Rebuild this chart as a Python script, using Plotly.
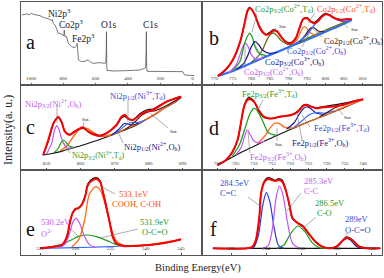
import plotly.graph_objects as go
from plotly.subplots import make_subplots

W, H = 384, 278
ML, MR, MT, MB = 21, 2, 2, 23

# ---------------- Panel a : survey ----------------
a_ev = [1057, 1040, 1027, 1010, 996, 985, 965, 944, 924, 903, 890, 883, 872, 868, 862, 852, 842, 831,
        821, 805, 797, 794, 790, 780, 769, 759, 749, 728, 718, 714, 711, 708, 706, 687, 660, 646, 630,
        615, 574, 543, 537, 534, 532.5, 531, 529, 492, 409, 327, 296, 290, 287, 285.5, 284, 281, 162,
        60, 49, -12]
a_int = [210, 212, 213, 211, 215, 212, 210, 208, 203, 200, 198, 197, 193, 196, 185, 180, 170, 155,
         155, 150, 148, 165, 145, 145, 125, 120, 115, 112, 118, 125, 105, 80, 75, 70, 72, 76, 68,
         65, 67, 65, 66, 100, 160, 60, 44, 42, 43, 45, 50, 52, 100, 160, 55, 41, 40,
         40, 30, 28]

# ---------------- Panel b : Co 2p ----------------
b_ev = [771, 773, 775, 777, 778, 779, 779.5, 780, 781, 782, 783, 784, 785, 786, 787, 788, 789, 790,
        791, 792, 793, 794, 795, 796, 797, 798, 799, 800, 801, 802, 803, 804, 805, 806, 807]
b_fit = [27, 45, 75, 130, 175, 222, 230, 228, 210, 180, 160, 150, 155, 163, 160, 145, 132, 125,
         127, 140, 172, 198, 200, 190, 185, 192, 205, 212, 210, 203, 198, 195, 196, 197, 197]
b_raw = [27, 44, 74, 128, 176, 224, 233, 229, 208, 178, 158, 152, 158, 166, 161, 146, 133, 127,
         129, 142, 170, 199, 202, 192, 188, 196, 208, 215, 211, 204, 199, 197, 197, 198, 197]
b_bg_ev = [771, 775, 780, 785, 790, 795, 800, 805, 807]
b_bg = [27, 42, 66, 90, 113, 136, 160, 184, 195]
b_co2td_ev = [775, 777, 778, 779, 779.6, 780.3, 781, 782, 784]
b_co2td = [42, 72, 117, 147, 155, 143, 116, 96, 88]
b_co2oh_ev = [774, 776, 777, 778, 778.5, 779.2, 780, 781, 783]
b_co2oh = [37, 62, 92, 122, 125, 113, 91, 79, 80]
b_co3oh_ev = [776, 778, 779, 780, 781, 782, 783, 785, 787]
b_co3oh = [47, 65, 87, 114, 130, 121, 105, 95, 99]
b_sat_ev = [780, 782, 783, 784, 785, 786, 787, 788, 790, 792, 795, 800, 807]
b_sat = [68, 88, 105, 130, 150, 156, 147, 134, 121, 124, 140, 165, 197]
b_td12_ev = [791, 792.5, 793.5, 794.3, 795, 796, 797.5]
b_td12 = [120, 139, 164, 175, 169, 156, 150]
b_co3oh12_ev = [793, 794.5, 795.5, 796.2, 797, 798, 799.5]
b_co3oh12 = [129, 149, 165, 172, 171, 162, 160]
b_co2oh12_ev = [790, 793, 795, 797, 798.5, 799.5, 800.4, 801.5, 803, 805, 807]
b_co2oh12 = [113, 132, 151, 181, 201, 212, 212, 207, 196, 190, 195]

# ---------------- Panel c : Ni 2p ----------------
c_ev = [849, 850.5, 852, 853, 853.4, 854.4, 855.4, 856.8, 858.3, 859.8, 860.7, 862.2, 864.2, 865.6,
        867.6, 870.5, 872, 873, 873.9, 875.4, 877.3, 879.3, 881.3, 883.2, 885.2, 887.1, 889.5]
c_fit = [45, 90, 140, 155, 160, 145, 115, 105, 115, 125, 128, 115, 105, 102,
         110, 135, 160, 165, 155, 150, 165, 175, 180, 192, 205, 212, 220]
c_raw = [44, 86, 138, 156, 158, 143, 116, 107, 117, 124, 126, 116, 107, 104,
         111, 133, 156, 161, 153, 151, 168, 180, 183, 194, 204, 213, 221]
c_bg_ev = [849, 852, 855, 858, 861, 864, 867, 870, 873, 876, 879, 882, 885, 888, 889.5]
c_bg = [45, 50, 58, 67, 76, 86, 97, 108, 120, 133, 150, 168, 188, 205, 218]
c_ni2oh_ev = [850, 851.5, 852.3, 853, 853.7, 854.5, 856, 858]
c_ni2oh = [48, 80, 117, 133, 120, 92, 67, 67]
c_ni3td_ev = [852, 853.5, 854.3, 854.9, 855.6, 856.5, 858]
c_ni3td = [50, 66, 83, 90, 85, 73, 67]
c_sat_ev = [854, 856, 858, 859.5, 860.7, 862, 864, 866, 868, 872, 878, 884, 889.5]
c_sat = [58, 73, 102, 120, 125, 124, 111, 101, 103, 118, 145, 182, 218]
c_ni2oh12_ev = [869, 871, 872.2, 873, 873.8, 875, 877]
c_ni2oh12 = [104, 120, 134, 140, 138, 135, 140]
c_ni3td12_ev = [870, 872, 873.5, 874.5, 875.5, 877, 879]
c_ni3td12 = [108, 124, 137, 142, 143, 143, 150]
c_sat2_ev = [873, 876, 878, 880, 882, 885, 889.5]
c_sat2 = [120, 145, 165, 175, 178, 192, 218]

# ---------------- Panel d : Fe 2p ----------------
d_ev = [700, 702.3, 704.1, 705.5, 706.4, 707.3, 708.2, 708.8, 710, 711.3, 712.7, 714, 715.4, 717.2,
        718.5, 720.3, 722.1, 723.5, 724.4, 725.7, 727.1, 728.9, 731.2, 733, 735.2, 737.9, 740]
d_fit = [15, 30, 55, 90, 140, 190, 210, 213, 205, 180, 160, 155, 155, 160,
         162, 165, 175, 192, 195, 190, 185, 188, 190, 192, 198, 207, 212]
d_raw = [15, 29, 53, 88, 138, 192, 214, 217, 207, 178, 158, 154, 156, 161,
         161, 166, 177, 194, 197, 191, 186, 190, 194, 197, 201, 208, 212]
d_bg_ev = [700, 703, 706, 709, 712, 715, 718, 721, 724, 727, 730, 733, 736, 740]
d_bg = [15, 32, 50, 66, 82, 97, 112, 126, 140, 153, 166, 179, 193, 212]
d_fe3td_ev = [704, 706, 707.5, 709, 710, 711, 712.5, 714, 716]
d_fe3td = [41, 75, 123, 171, 185, 177, 145, 112, 105]
d_fe3oh_ev = [705, 706.5, 707.5, 708.2, 709, 710, 711.5, 713]
d_fe3oh = [45, 68, 103, 120, 106, 87, 82, 87]
d_sat_ev = [711, 713, 714.5, 715.8, 717, 718.5, 720.5, 722.5, 727, 732, 736, 740]
d_sat = [79, 102, 127, 141, 139, 128, 126, 133, 153, 176, 194, 212]
d_fe3oh12_ev = [719, 721, 722.5, 723.7, 724.4, 725.3, 727, 729.5]
d_fe3oh12 = [123, 141, 168, 185, 189, 187, 172, 166]
d_fe3td12_ev = [721, 723.5, 725, 726.2, 727.5, 729.5, 732]
d_fe3td12 = [128, 150, 164, 170, 172, 171, 177]
d_sat2_ev = [728, 730, 732, 733.5, 735, 737, 740]
d_sat2 = [160, 172, 185, 192, 196, 205, 212]

# ---------------- Panel e : O 1s ----------------
e_ev = [525, 526.9, 528.1, 528.8, 529.2, 529.6, 530, 530.4, 530.9, 531.4, 531.8, 532.5, 533,
        533.5, 533.9, 534.4, 534.9, 535.3, 535.8, 536.8, 538.2, 540.5, 542.9, 545]
e_fit = [20, 25, 30, 55, 95, 125, 137, 140, 150, 175, 210, 225, 228,
         220, 190, 145, 95, 55, 35, 27, 27, 30, 37, 47]
e_raw = [20, 25, 31, 52, 92, 126, 139, 141, 152, 178, 214, 229, 232,
         223, 192, 146, 97, 57, 36, 27, 27, 30, 37, 47]
e_bg_ev = [525, 530, 535, 536.5]
e_bg = [20, 22, 25, 27]
e_o2_ev = [527.5, 528.5, 529.2, 529.7, 530.1, 530.6, 531.2, 532, 533]
e_o2 = [21, 31, 66, 101, 110, 96, 61, 31, 22]
e_oco_ev = [526, 528, 529.5, 530.5, 531.7, 533, 534.5, 536, 537.5]
e_oco = [23, 31, 46, 56, 60, 55, 43, 30, 28]
e_cooh_ev = [529.5, 530.5, 531.3, 532, 532.9, 533.6, 534.3, 535, 535.8, 537, 540, 545]
e_cooh = [24, 47, 102, 182, 205, 192, 147, 88, 43, 28, 30, 47]

# ---------------- Panel f : C 1s ----------------
f_ev = [280.95, 282.9, 283.2, 283.4, 283.6, 283.7, 283.9, 284.1, 284.3, 284.5, 284.7, 284.9, 285.1,
        285.3, 285.5, 285.8, 286.1, 286.4, 286.8, 287.2, 287.6, 288, 288.4, 288.6, 288.9, 289.3,
        289.8, 290.5]
f_fit = [20, 20, 25, 45, 115, 185, 220, 228, 225, 222, 225, 220, 195,
         155, 110, 95, 85, 65, 40, 25, 20, 25, 45, 52, 45, 25, 20, 20]
f_raw = [20, 20, 24, 42, 112, 186, 223, 232, 229, 224, 229, 225, 198,
         152, 108, 97, 87, 66, 40, 25, 21, 26, 46, 54, 46, 26, 20, 20]
f_bg_ev = [280.95, 290.5]
f_bg = [20, 20]
f_cc2_ev = [283.0, 283.3, 283.55, 283.8, 284.0, 284.2, 284.45, 284.7, 285.0]
f_cc2 = [20, 24, 60, 150, 187, 160, 80, 28, 20]
f_cc_ev = [283.8, 284.1, 284.35, 284.55, 284.75, 284.95, 285.2, 285.5, 285.9]
f_cc = [20, 28, 80, 170, 207, 180, 100, 35, 20]
f_co_ev = [284.6, 285.0, 285.4, 285.8, 286.2, 286.6, 287.0, 287.4]
f_co = [20, 30, 65, 87, 70, 38, 22, 20]
f_oco_ev = [287.8, 288.1, 288.4, 288.6, 288.8, 289.1, 289.4]
f_oco = [20, 28, 45, 50, 45, 28, 20]

RED, BLACK = "#ff0000", "#111111"
GREEN, PURPLE, NAVY, BLUE = "#1fa01f", "#c455f5", "#1c1c8c", "#2f6cff"
ORANGE, OLIVE, BROWN = "#ff6a1c", "#62721a", "#4a1a1a"

fig = make_subplots(rows=3, cols=2, horizontal_spacing=0, vertical_spacing=0,
                    row_heights=[83, 85, 85])


def add(r, c, x, y, color, width=1.2, shape="spline"):
    fig.add_trace(go.Scatter(x=x, y=y, mode="lines", showlegend=False, hoverinfo="skip",
                             line=dict(color=color, width=width, shape=shape, smoothing=0.8)),
                  row=r, col=c)


add(1, 1, a_ev, a_int, "#555555", 0.8, "linear")

add(1, 2, b_bg_ev, b_bg, BLUE, 2.2)
add(1, 2, b_sat_ev, b_sat, OLIVE, 1.3)
add(1, 2, b_co2oh_ev, b_co2oh, PURPLE, 1.2)
add(1, 2, b_co2td_ev, b_co2td, GREEN, 1.3)
add(1, 2, b_co3oh_ev, b_co3oh, NAVY, 1.3)
add(1, 2, b_td12_ev, b_td12, ORANGE, 1.2)
add(1, 2, b_co3oh12_ev, b_co3oh12, BROWN, 1.2)
add(1, 2, b_co2oh12_ev, b_co2oh12, BLUE, 1.5)
add(1, 2, b_ev, b_raw, BLACK, 1.3)
add(1, 2, b_ev, b_fit, RED, 2.0)

add(2, 1, c_bg_ev, c_bg, BLACK, 1.1)
add(2, 1, c_sat_ev, c_sat, ORANGE, 1.5)
add(2, 1, c_ni2oh_ev, c_ni2oh, PURPLE, 1.2)
add(2, 1, c_ni3td_ev, c_ni3td, GREEN, 1.2)
add(2, 1, c_ni2oh12_ev, c_ni2oh12, NAVY, 1.1)
add(2, 1, c_ni3td12_ev, c_ni3td12, BLUE, 1.1)
add(2, 1, c_sat2_ev, c_sat2, BROWN, 1.2)
add(2, 1, c_ev, c_raw, BLACK, 1.3)
add(2, 1, c_ev, c_fit, RED, 2.0)

add(2, 2, d_bg_ev, d_bg, BLACK, 1.1)
add(2, 2, d_sat_ev, d_sat, ORANGE, 1.3)
add(2, 2, d_fe3oh_ev, d_fe3oh, PURPLE, 1.2)
add(2, 2, d_fe3td_ev, d_fe3td, GREEN, 1.3)
add(2, 2, d_fe3oh12_ev, d_fe3oh12, NAVY, 1.2)
add(2, 2, d_fe3td12_ev, d_fe3td12, BLUE, 1.1)
add(2, 2, d_sat2_ev, d_sat2, BROWN, 1.1)
add(2, 2, d_ev, d_raw, BLACK, 1.3)
add(2, 2, d_ev, d_fit, RED, 2.0)

add(3, 1, e_bg_ev, e_bg, BLUE, 1.1)
add(3, 1, e_oco_ev, e_oco, GREEN, 1.2)
add(3, 1, e_o2_ev, e_o2, PURPLE, 1.2)
add(3, 1, e_cooh_ev, e_cooh, ORANGE, 1.3)
add(3, 1, e_ev, e_raw, BLACK, 1.3)
add(3, 1, e_ev, e_fit, RED, 2.0)

add(3, 2, f_bg_ev, f_bg, BLACK, 1.2)
add(3, 2, f_co_ev, f_co, GREEN, 1.2)
add(3, 2, f_oco_ev, f_oco, NAVY, 1.2)
add(3, 2, f_cc2_ev, f_cc2, "#2a3ad8", 1.2)
add(3, 2, f_cc_ev, f_cc, PURPLE, 1.2)
add(3, 2, f_ev, f_raw, BLACK, 1.3)
add(3, 2, f_ev, f_fit, RED, 2.0)

SERIF = "Liberation Serif, Times New Roman, DejaVu Serif, serif"
xr = {(1, 1): ([1062, -56], 200), (1, 2): ([766.6, 815.2], 5), (2, 1): ([842.5, 895.5], 10),
      (2, 2): ([695.6, 745.2], 5), (3, 1): ([522.3, 547.9], 5), (3, 2): ([280.3, 290.6], 2)}
for (r, c), (rng, dt) in xr.items():
    fig.update_xaxes(range=rng, dtick=dt, showline=True, mirror=True, linecolor="#555555",
                     linewidth=1, ticks="inside", ticklen=2, tickcolor="#555555",
                     ticklabelposition="inside", showgrid=False, zeroline=False,
                     tickfont=dict(size=5, family=SERIF, color="#333333"), row=r, col=c)
    fig.update_yaxes(range=[0, 249 if r == 1 else 255], showticklabels=False, showline=True,
                     mirror=True, linecolor="#555555", linewidth=1, ticks="", showgrid=False,
                     zeroline=False, row=r, col=c)


def P(x, y):
    return (x - ML) / (W - ML - MR), (H - MB - y) / (H - MT - MB)


anns = []


def txt(s, x, y, color, size=8.5, anchor="left"):
    px, py = P(x, y)
    anns.append(dict(text=s, x=px, y=py, xref="paper", yref="paper", showarrow=False,
                     xanchor=anchor, yanchor="middle", font=dict(family=SERIF, size=size, color=color)))


DK = "#222222"
# panel a
txt("Ni2p<sup>3</sup>", 46, 13, DK, 9.5)
txt("Co2p<sup>3</sup>", 57, 24, DK, 9.5)
txt("Fe2p<sup>3</sup>", 70, 38, DK, 9.5)
txt("O1s", 99, 25, DK, 9.5)
txt("C1s", 141, 25, DK, 9.5)
# panel b
txt("Co2p<sub>3/2</sub>(Co<sup>2+</sup>,T<sub>d</sub>)", 253, 9, "#2a9a2a")
txt("Co2p<sub>1/2</sub>(Co<sup>2+</sup>,T<sub>d</sub>)", 315, 9, "#ff5020")
txt("Co2p<sub>1/2</sub>(Co<sup>3+</sup>,O<sub>h</sub>)", 322, 40, "#3a1414")
txt("Co2p<sub>1/2</sub>(Co<sup>2+</sup>,O<sub>h</sub>)", 285, 50, "#4545d5")
txt("Co2p<sub>3/2</sub>(Co<sup>3+</sup>,O<sub>h</sub>)", 263, 62, "#20208a")
txt("Co2p<sub>3/2</sub>(Co<sup>2+</sup>,O<sub>h</sub>)", 242, 72, "#c060f0")
txt("Sat.", 277, 26, DK, 5)
txt("Sat.", 349, 29, DK, 5)
# panel c
txt("Ni2p<sub>3/2</sub>(Ni<sup>2+</sup>,O<sub>h</sub>)", 23, 103, "#c060f0")
txt("Ni2p<sub>1/2</sub>(Ni<sup>3+</sup>,T<sub>d</sub>)", 108, 95, "#4545d5")
txt("Ni2p<sub>1/2</sub>(Ni<sup>2+</sup>,O<sub>h</sub>)", 122, 146, "#20208a")
txt("Ni2p<sub>3/2</sub>(Ni<sup>3+</sup>,T<sub>d</sub>)", 70, 155, "#2a9a2a", 8)
txt("Sat.", 80, 119, DK, 5)
txt("Sat.", 168, 132, DK, 5)
# panel d
txt("Fe2p<sub>3/2</sub>(Fe<sup>3+</sup>,T<sub>d</sub>)", 240, 93, "#2a9a2a")
txt("Fe2p<sub>1/2</sub>(Fe<sup>3+</sup>,T<sub>d</sub>)", 312, 127, "#4545d5")
txt("Fe2p<sub>1/2</sub>(Fe<sup>3+</sup>,O<sub>h</sub>)", 290, 142, "#20208a")
txt("Fe2p<sub>3/2</sub>(Fe<sup>3+</sup>,O<sub>h</sub>)", 248, 156, "#c060f0")
txt("Sat.", 273, 144, DK, 5)
txt("Sat.", 342, 117, DK, 5)
# panel e
txt("530.2eV", 39, 222, "#c060f0")
txt("O<sup>2-</sup>", 39, 233, "#c060f0")
txt("533.1eV", 117, 194, "#ff5020")
txt("COOH, C-OH", 110, 204, "#ff5020")
txt("531.9eV", 138, 222, "#2a9a2a")
txt("O-C=O", 140, 232, "#2a9a2a")
# panel f
txt("284.5eV", 218, 183, "#3a48d8")
txt("C=C", 218, 193, "#3a48d8")
txt("285.3eV", 302, 181, "#c060f0")
txt("C-C", 302, 191, "#c060f0")
txt("286.5eV", 313, 203, "#2a9a2a")
txt("C-O", 315, 213, "#2a9a2a")
txt("289eV", 343, 219, "#3a48d8")
txt("O-C=O", 343, 230, "#3a48d8")
# panel letters
for s, x, y in [("a", 24, 42), ("b", 207, 38), ("c", 24, 127), ("d", 207, 128), ("e", 24, 229), ("f", 208, 229)]:
    txt(s, x, y, "#111111", 20)

# axis titles
px, py = P(8, 130)
anns.append(dict(text="Intensity(a. u.)", x=px, y=py, xref="paper", yref="paper", showarrow=False,
                 textangle=-90, xanchor="center", yanchor="middle",
                 font=dict(family=SERIF, size=12, color=DK)))
px, py = P(198, 268)
anns.append(dict(text="Binding Energy(eV)", x=px, y=py, xref="paper", yref="paper", showarrow=False,
                 xanchor="center", yanchor="middle", font=dict(family=SERIF, size=10.5, color=DK)))

# pointer lines (pixel positions)
segs = [((257, 14), (252, 32)), ((315, 13), (308, 23)), ((322, 37), (312, 28)), ((302, 47), (310, 32)),
        ((263, 58), (255, 45)), ((245, 68), (245, 47)), ((276, 28), (272, 33)), ((348, 28), (343, 22)),
        ((57, 106), (57, 123)), ((128, 100), (128, 122)), ((123, 143), (118, 132)), ((70, 153), (62, 142)),
        ((84, 122), (83, 127)), ((168, 128), (150, 113)),
        ((263, 100), (258, 110)), ((310, 127), (302, 115)), ((302, 140), (297, 113)), ((250, 153), (248, 132)),
        ((277, 141), (277, 128)), ((343, 115), (337, 107)),
        ((70, 228), (78, 236)), ((115, 194), (102, 187)), ((138, 229), (100, 238)),
        ((248, 197), (263, 208)), ((301, 193), (287, 211)), ((316, 217), (302, 229)), ((348, 233), (343, 239))]
shapes = []
for (x0, y0), (x1, y1) in segs:
    a0, b0 = P(x0, y0)
    a1, b1 = P(x1, y1)
    shapes.append(dict(type="line", xref="paper", yref="paper", x0=a0, y0=b0, x1=a1, y1=b1,
                       line=dict(color="#777777", width=0.6)))

fig.update_layout(width=W, height=H, margin=dict(l=ML, r=MR, t=MT, b=MB),
                  paper_bgcolor="white", plot_bgcolor="white", annotations=anns, shapes=shapes,
                  showlegend=False)
fig.write_html("out.html", config={"displayModeBar": False},
               post_script="document.body.style.margin='0';document.body.style.overflow='hidden';")
